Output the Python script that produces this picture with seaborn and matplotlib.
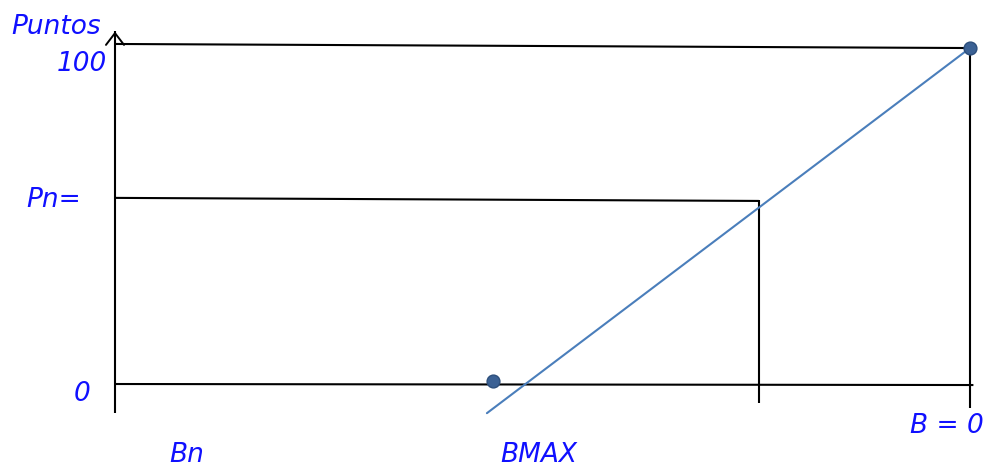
import numpy as np
import pandas as pd
import matplotlib
matplotlib.use("Agg")
import matplotlib.pyplot as plt
import seaborn as sns

sns.set_style("white")
plt.rcParams['font.family'] = ['DejaVu Sans']

# Puntos vs B (x: 0 = Bn side, 100 = B = 0)
recta_x = [43.5, 100.0]
recta_y = [-8.6, 99.1]
puntos_x = [44.2, 100.0]
puntos_y = [0.9, 99.1]

# lineas del esquema
eje_y = ([0.0, 0.0], [-8.6, 104.0])
linea_100 = ([0.0, 100.0], [100.3, 99.1])
linea_0 = ([0.0, 100.4], [0.0, -0.3])
linea_pn = ([0.0, 75.3], [54.9, 54.0])
vert_pn = ([75.3, 75.3], [54.3, -5.6])
vert_b0 = ([100.0, 100.0], [99.1, -7.1])

etiquetas = [
    ("Puntos", -1.6, 105.2, "right"),
    ("100", -0.9, 94.3, "right"),
    ("Pn=", -4.0, 54.3, "right"),
    ("0", -2.9, -3.0, "right"),
    ("Bn", 8.4, -20.9, "center"),
    ("BMAX", 49.6, -20.9, "center"),
    ("B = 0", 101.6, -12.4, "right"),
]

fig = plt.figure(figsize=(9.87, 4.67), dpi=100)
ax = fig.add_axes([0, 0, 1, 1])
ax.set_xlim(-13.45, 101.99)
ax.set_ylim(-24.48, 113.27)
ax.axis("off")

for xs, ys in [eje_y, linea_100, linea_0, linea_pn, vert_pn, vert_b0]:
    ax.plot(xs, ys, color="black", lw=1.5, solid_capstyle="butt")

ax.annotate("", xy=(0.0, 104.8), xytext=(0.0, 95.0),
            arrowprops=dict(arrowstyle="->,head_length=0.85,head_width=0.65",
                            color="black", lw=1.4))

df_recta = pd.DataFrame({"x": recta_x, "y": recta_y})
sns.lineplot(data=df_recta, x="x", y="y", ax=ax, color="#4a7ebb", lw=1.5)
df_pts = pd.DataFrame({"x": puntos_x, "y": puntos_y})
sns.scatterplot(data=df_pts, x="x", y="y", ax=ax, color="#3b6194", s=85,
                edgecolor="#2d4f7c", linewidth=1, zorder=5)

for txt, x, y, ha in etiquetas:
    ax.text(x, y, txt, color="#1010ff", fontsize=19, fontstyle="italic",
            ha=ha, va="center")

ax.set_xlim(-13.45, 101.99)
ax.set_ylim(-24.48, 113.27)
fig.savefig("out.png", dpi=100)
